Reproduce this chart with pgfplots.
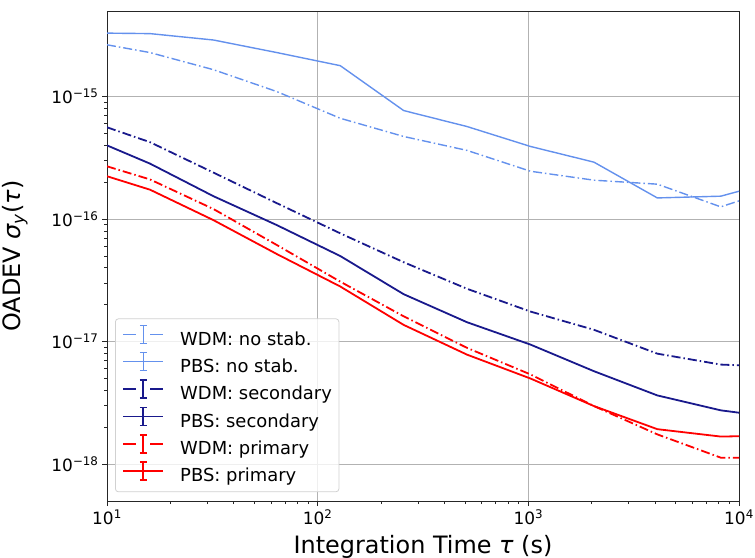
\documentclass[border=0pt]{standalone}
\usepackage{fontspec}
\setmainfont{DejaVu Sans}
\usepackage{pgfplots}
\pgfplotsset{compat=1.18}

\definecolor{nostab}{RGB}{100,145,237}
\definecolor{secondary}{RGB}{25,25,140}
\definecolor{primary}{RGB}{255,0,0}

\tikzset{
  dd/.style={dash pattern=on 9bp off 3bp on 1.5bp off 3bp},
}
\pgfplotsset{
  wdmleg/.style={legend image code/.code={
      \draw[##1,solid] (0bp,6bp) -- (13bp,6bp) (27bp,6bp) -- (40bp,6bp)
        (20bp,-3bp) -- (20bp,15bp)
        (16.5bp,-3bp) -- (23.5bp,-3bp) (16.5bp,15bp) -- (23.5bp,15bp);
  }},
  pbsleg/.style={legend image code/.code={
      \draw[##1,solid] (0bp,6bp) -- (40bp,6bp)
        (20bp,-3bp) -- (20bp,15bp)
        (16.5bp,-3bp) -- (23.5bp,-3bp) (16.5bp,15bp) -- (23.5bp,15bp);
  }},
}

\begin{document}
\begin{tikzpicture}
\begin{loglogaxis}[
  name=ax,
  scale only axis,
  width=632bp, height=490bp,
  xmin=10, xmax=10000,
  ymin=5e-19, ymax=5e-15,
  axis line style={black!85, line width=1bp},
  tick align=outside,
  xtick pos=left, ytick pos=left,
  major tick length=5bp, minor tick length=3bp,
  every tick/.style={black!85, line width=0.8bp},
  grid=major,
  major grid style={black!30, line width=0.8bp},
  xtick={10,100,1000,10000},
  xticklabels={10\textsuperscript{1},10\textsuperscript{2},10\textsuperscript{3},10\textsuperscript{4}},
  ytick={1e-18,1e-17,1e-16,1e-15},
  yticklabels={10\textsuperscript{−18},10\textsuperscript{−17},10\textsuperscript{−16},10\textsuperscript{−15}},
  tick label style={font=\fontsize{17}{20}\selectfont},
  xlabel={Integration Time \textit{τ} (s)},
  ylabel={OADEV \textit{σ\textsubscript{y}}(\textit{τ})},
  label style={font=\fontsize{24}{28}\selectfont},
  xlabel style={at={(axis description cs:0.5,-0.1061)}, anchor=base},
  ylabel style={at={(axis description cs:-0.1456,0.5)}, anchor=center, rotate=0},
  legend cell align=left,
  legend style={
    at={(0.0127,0.018)}, anchor=south west,
    draw=black!18, line width=0.8bp, rounded corners=3bp,
    fill=white, fill opacity=0.8, text opacity=1,
    font=\fontsize{18}{18}\selectfont,
    inner xsep=7bp, inner ysep=6bp,
    row sep=3bp, column sep=16bp,
    nodes={inner sep=0bp, text height=13bp, text depth=4bp},
  },
]

% WDM: no stab.
\addplot[color=nostab, draw=nostab, line width=1.4bp, dd, wdmleg] coordinates {
  (10,2.65e-15) (16,2.29e-15) (32,1.66e-15) (64,1.10e-15) (128,6.66e-16)
  (256,4.73e-16) (512,3.64e-16) (1024,2.46e-16) (2048,2.08e-16)
  (4096,1.93e-16) (8192,1.26e-16) (10000,1.41e-16)
};
\addlegendentry{WDM: no stab.}

% PBS: no stab.
\addplot[color=nostab, draw=nostab, line width=1.4bp, solid, pbsleg] coordinates {
  (10,3.30e-15) (16,3.27e-15) (32,2.90e-15) (64,2.29e-15) (128,1.79e-15)
  (256,7.7e-16) (512,5.7e-16) (1024,3.92e-16) (2048,2.92e-16)
  (4096,1.49e-16) (8192,1.54e-16) (10000,1.69e-16)
};
\addlegendentry{PBS: no stab.}

% WDM: secondary
\addplot[color=secondary, draw=secondary, line width=1.8bp, dd, wdmleg] coordinates {
  (10,5.62e-16) (16,4.25e-16) (32,2.40e-16) (64,1.35e-16) (128,7.66e-17)
  (256,4.45e-17) (512,2.70e-17) (1024,1.76e-17) (2048,1.25e-17)
  (4096,7.98e-18) (8192,6.50e-18) (10000,6.41e-18)
};
\addlegendentry{WDM: secondary}

% PBS: secondary
\addplot[color=secondary, draw=secondary, line width=1.8bp, solid, pbsleg] coordinates {
  (10,4.00e-16) (16,2.84e-16) (32,1.54e-16) (64,8.94e-17) (128,5.00e-17)
  (256,2.44e-17) (512,1.44e-17) (1024,9.46e-18) (2048,5.74e-18)
  (4096,3.64e-18) (8192,2.75e-18) (10000,2.63e-18)
};
\addlegendentry{PBS: secondary}

% WDM: primary
\addplot[color=primary, draw=primary, line width=1.8bp, dd, wdmleg] coordinates {
  (10,2.70e-16) (16,2.11e-16) (32,1.21e-16) (64,6.15e-17) (128,3.09e-17)
  (256,1.61e-17) (512,8.89e-18) (1024,5.40e-18) (2048,2.98e-18)
  (4096,1.75e-18) (8192,1.13e-18) (10000,1.13e-18)
};
\addlegendentry{WDM: primary}

% PBS: primary
\addplot[color=primary, draw=primary, line width=1.8bp, solid, pbsleg] coordinates {
  (10,2.24e-16) (16,1.74e-16) (32,9.82e-17) (64,5.19e-17) (128,2.82e-17)
  (256,1.37e-17) (512,7.83e-18) (1024,5.00e-18) (2048,2.98e-18)
  (4096,1.93e-18) (8192,1.68e-18) (10000,1.69e-18)
};
\addlegendentry{PBS: primary}

\end{loglogaxis}
\pgfresetboundingbox
\path[use as bounding box] (ax.south west) ++(-107bp,-57bp)
  rectangle ([shift={(16bp,11bp)}]ax.north east);
\end{tikzpicture}
\end{document}
